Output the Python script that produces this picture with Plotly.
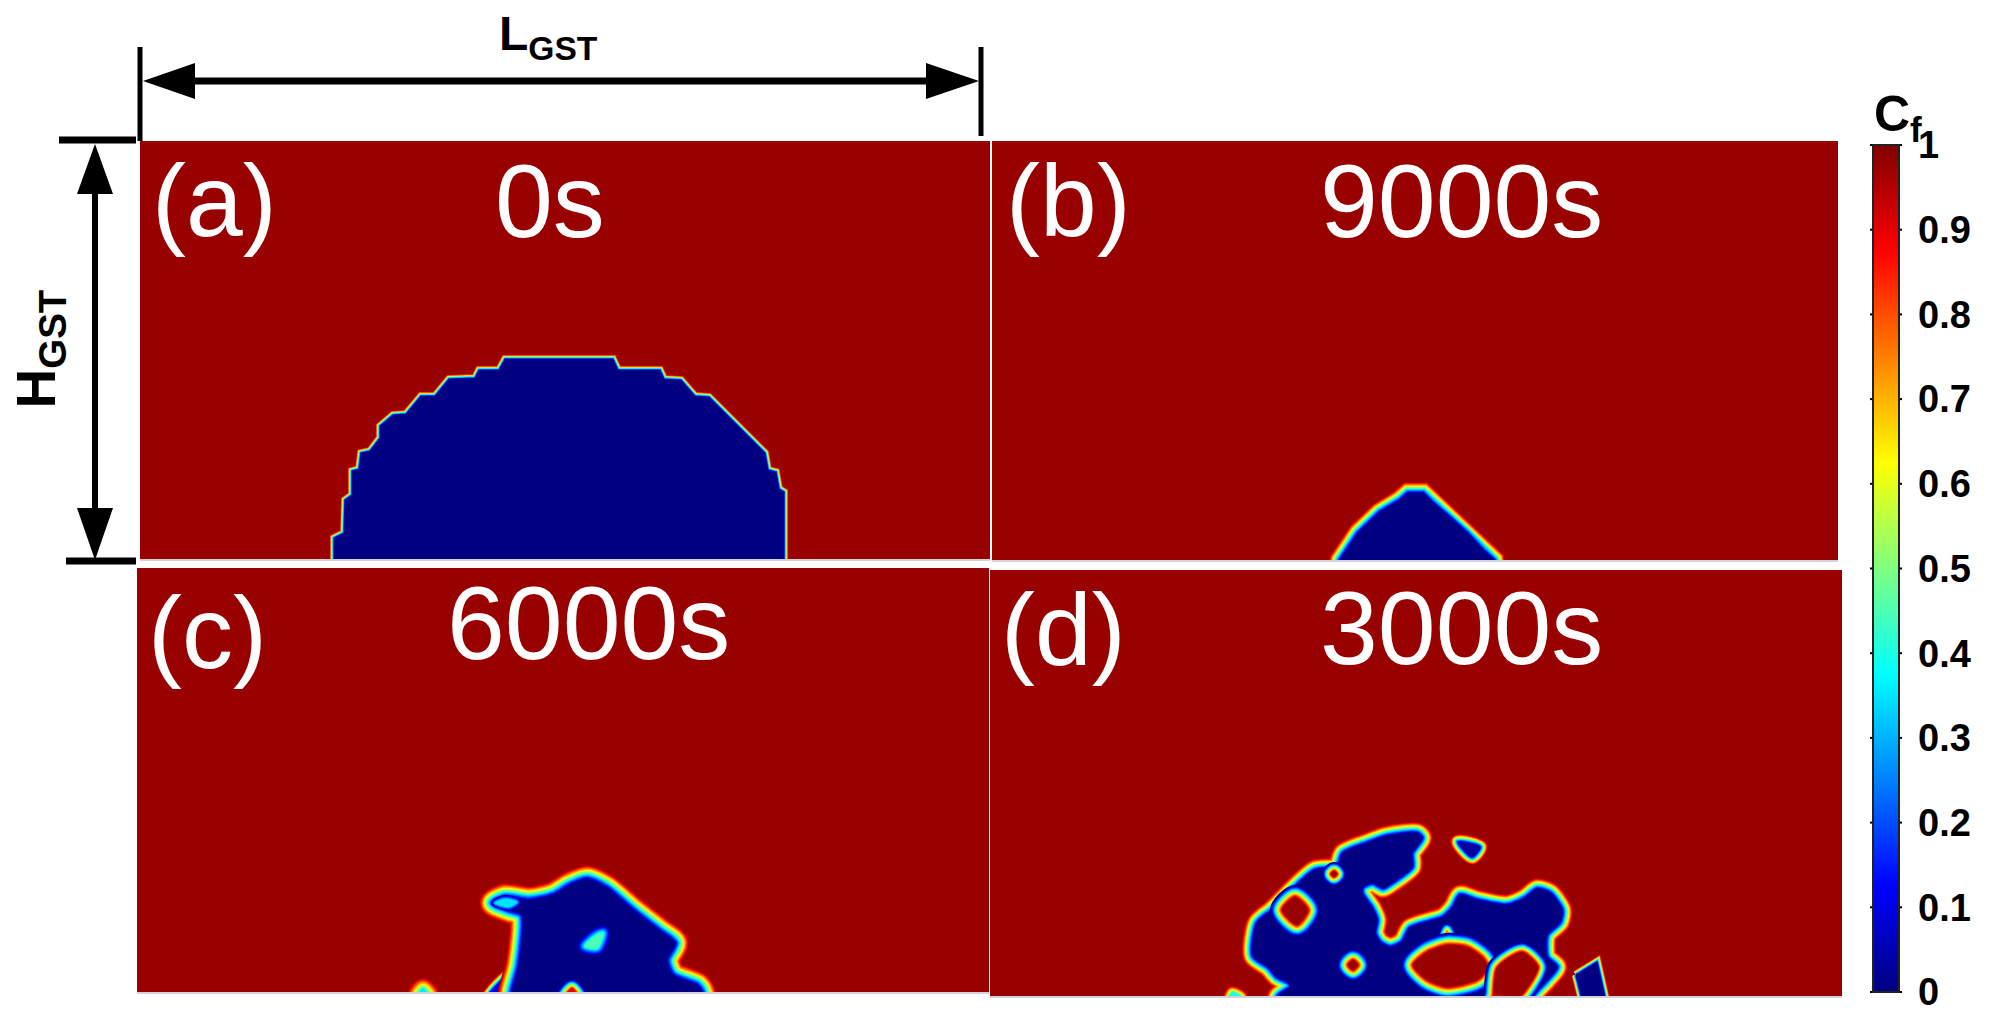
import plotly.graph_objects as go

FIG_W, FIG_H = 1992, 1034
TIME_LABELS = ["0s", "9000s", "6000s", "3000s"]
PANEL_LABELS = ["(a)", "(b)", "(c)", "(d)"]
CBAR_TICKS = [0, 0.1, 0.2, 0.3, 0.4, 0.5, 0.6, 0.7, 0.8, 0.9, 1]
CBAR_TEXT = ["0", "0.1", "0.2", "0.3", "0.4", "0.5", "0.6", "0.7", "0.8", "0.9", "1"]
BACKGROUND_CF = 0.975

# Outlines of the amorphous (Cf ~ 0) regions.
# Units: distance from each panel's left edge and from its bottom edge.
A_X = [194, 194, 204, 205, 212, 212, 219, 221, 230, 240, 240, 253, 266, 281, 295, 309, 335, 339, 359, 365, 473, 478, 520, 524, 541, 555, 569, 625, 628, 636, 639, 644, 644]
A_Y = [-15, 21, 26, 59, 64, 88, 90, 106, 108, 121, 133, 144, 145, 163, 163, 180, 181, 189, 189, 200, 200, 189, 189, 180, 179, 163, 162, 106, 89, 87, 70, 67, -15]

B_X = [345, 348, 366, 388, 408, 416, 431, 441, 455, 475, 491, 502, 504]
B_Y = [-15, 0, 27, 48, 60, 67, 67, 57, 45, 27, 10, 0, -15]

C_MAIN_X = [375, 375, 382, 385, 372, 356, 368, 392, 416, 433, 450, 470, 496, 523, 538, 530, 536, 560, 565, 565]
C_MAIN_Y = [-15, 0, 27, 77, 82, 89, 95, 92, 97, 107, 113, 104, 82, 61, 49, 32, 17, 7, 0, -15]
C_FLARE_X = [358, 368, 380, 372]
C_FLARE_Y = [89, 93, 90, 85]
C_FOOT_X = [350, 375, 375]
C_FOOT_Y = [-5, 20, -5]
C_CORE_X = [448, 460, 466, 460]
C_CORE_Y = [46, 57, 59, 44]
C_NOTCH_X = [428, 435, 441]
C_NOTCH_Y = [-4, 4, -4]
C_BUMP_X = [281, 286, 292]
C_BUMP_Y = [-4, 3, -4]

D_MAIN_X = [288, 288, 300, 299, 287, 278, 263, 267, 282, 307, 325, 347, 353, 377, 397, 427, 432, 422, 422, 403, 393, 383, 373, 372, 382, 387, 385, 390, 400, 412, 420, 437, 453, 463, 470, 487, 517, 535, 547, 560, 572, 570, 557, 557, 567, 557, 543, 543]
D_MAIN_Y = [-15, 0, 9, 13, 19, 29, 40, 73, 86, 111, 126, 129, 143, 153, 160, 163, 158, 143, 129, 114, 108, 113, 109, 103, 88, 76, 63, 54, 49, 54, 68, 74, 79, 89, 101, 96, 91, 98, 107, 103, 86, 74, 61, 39, 29, 16, 0, -15]
D_HOLE1_X = [423, 437, 457, 477, 493, 498, 487, 457, 437]
D_HOLE1_Y = [31, 44, 51, 49, 38, 28, 16, 9, 16]
D_SPIKE_X = [454, 457, 461]
D_SPIKE_Y = [54, 66, 54]
D_HOLE2_X = [507, 532, 548, 538, 530, 503, 503]
D_HOLE2_Y = [28, 44, 29, 9, 0, 0, -15]
D_HOLE3_X = [292, 305, 318, 307]
D_HOLE3_Y = [86, 99, 86, 71]
D_HOLE4_X = [358, 363, 368, 363]
D_HOLE4_Y = [31, 36, 31, 26]
D_HOLE5_X = [341, 344, 347, 344]
D_HOLE5_Y = [122, 125, 122, 119]
D_TRI_X = [586, 607, 618, 595]
D_TRI_Y = [21, 34, -15, -15]
D_ISLE_X = [468, 490, 482]
D_ISLE_Y = [154, 149, 139]
D_BUMP_X = [238, 242, 252]
D_BUMP_Y = [-6, 4, -1]

JET = [[0, "#000080"], [0.125, "#0000ff"], [0.375, "#00ffff"], [0.625, "#ffff00"], [0.875, "#ff0000"], [1, "#800000"]]


def jet(v):
    for (a, ca), (b, cb) in zip(JET, JET[1:]):
        if v <= b:
            t = (v - a) / (b - a)
            rgb = [round(int(ca[i:i + 2], 16) * (1 - t) + int(cb[i:i + 2], 16) * t) for i in (1, 3, 5)]
            return "rgb(%d,%d,%d)" % tuple(rgb)
    return JET[-1][1]


PANELS = [  # left, top, right, bottom in page pixels
    (140, 141, 990, 559),
    (992, 141, 1838, 560),
    (137, 568, 989, 992),
    (990, 570, 1842, 996),
]

fig = go.Figure()
layout_axes = {}
for i, (l, t, r, b) in enumerate(PANELS):
    s = "" if i == 0 else str(i + 1)
    layout_axes["xaxis" + s] = dict(domain=[l / FIG_W, r / FIG_W], range=[0, r - l], anchor="y" + s,
                                    showgrid=False, zeroline=False, showticklabels=False, ticks="",
                                    showline=True, linecolor="#d2d2da", linewidth=2, fixedrange=True)
    layout_axes["yaxis" + s] = dict(domain=[1 - b / FIG_H, 1 - t / FIG_H], range=[0, b - t], anchor="x" + s,
                                    showgrid=False, zeroline=False, showticklabels=False, ticks="",
                                    showline=False, fixedrange=True)
    trace = dict(z=[[BACKGROUND_CF]], x=[0, r - l], y=[0, b - t], zmin=0, zmax=1, colorscale=JET,
                 xaxis="x" + s, yaxis="y" + s, hoverinfo="skip", showscale=i == 0)
    if i == 0:
        trace["colorbar"] = dict(
            x=1873 / FIG_W, xanchor="left", y=1 - 992 / FIG_H, yanchor="bottom",
            len=847 / FIG_H, lenmode="fraction", thickness=26, thicknessmode="pixels",
            tickmode="array", tickvals=CBAR_TICKS, ticktext=CBAR_TEXT, ticks="outside", ticklen=11,
            tickcolor="rgba(0,0,0,0)", tickwidth=1, outlinecolor="#222222", outlinewidth=2,
            tickfont=dict(family="Liberation Sans", size=38, color="black", weight="bold"),
            xpad=0, ypad=0)
    fig.add_trace(go.Heatmap(**trace))


def region(panel, xs, ys, v_out, v_in, width, smooth=True, levels=12):
    """Layered outline: colour runs v_out -> v_in over `width` px toward the outline."""
    s = "" if panel == 0 else str(panel + 1)
    xc, yc = list(xs) + [xs[0]], list(ys) + [ys[0]]
    for k in range(levels + 1):
        t = k / levels
        v = v_out + (v_in - v_out) * t
        d = width * (1 - t)
        fig.add_trace(go.Scatter(
            x=xc, y=yc, mode="lines", fill="toself", fillcolor=jet(v),
            line=dict(color=jet(v), width=max(2 * d, 0.01), shape="spline" if smooth else "linear", smoothing=0.7),
            xaxis="x" + s, yaxis="y" + s, hoverinfo="skip", showlegend=False))


BLOB, HOLE = (0.95, 0.0), (0.0, 0.975)
region(0, A_X, A_Y, *BLOB, 4.5, smooth=False, levels=8)
region(1, B_X, B_Y, *BLOB, 11, smooth=False)

region(2, C_FOOT_X, C_FOOT_Y, 0.95, 0.1, 6)
region(2, C_MAIN_X, C_MAIN_Y, *BLOB, 14)
region(2, C_FLARE_X, C_FLARE_Y, 0.03, 0.35, 4)
region(2, C_CORE_X, C_CORE_Y, 0.0, 0.45, 8)
region(2, C_NOTCH_X, C_NOTCH_Y, 0.0, 0.9, 9)
region(2, C_BUMP_X, C_BUMP_Y, 0.95, 0.35, 11)

region(3, D_MAIN_X, D_MAIN_Y, *BLOB, 11)
region(3, D_TRI_X, D_TRI_Y, *BLOB, 5, smooth=False)
region(3, D_ISLE_X, D_ISLE_Y, 0.95, 0.03, 8)
region(3, D_BUMP_X, D_BUMP_Y, 0.95, 0.4, 6)
region(3, D_SPIKE_X, D_SPIKE_Y, 0.1, 0.75, 6)
region(3, D_HOLE1_X, D_HOLE1_Y, *HOLE, 12)
region(3, D_HOLE2_X, D_HOLE2_Y, *HOLE, 10)
region(3, D_HOLE3_X, D_HOLE3_Y, *HOLE, 12)
region(3, D_HOLE4_X, D_HOLE4_Y, *HOLE, 11)
region(3, D_HOLE5_X, D_HOLE5_Y, *HOLE, 9)

TEXT_POS = [((74, 358), (410, 358)), ((76, 359), (469, 359)), ((70, 359), (451, 369)), ((73, 366), (471, 368))]
annotations = []
for i, ((lx, ly), (tx, ty)) in enumerate(TEXT_POS):
    s = "" if i == 0 else str(i + 1)
    for txt, x, y, size in ((PANEL_LABELS[i], lx, ly, 102), (TIME_LABELS[i], tx, ty, 104)):
        annotations.append(dict(text=txt, x=x, y=y, xref="x" + s, yref="y" + s, showarrow=False,
                                xanchor="center", yanchor="middle",
                                font=dict(family="Liberation Sans", size=size, color="white")))


def px(x):
    return x / FIG_W


def py(y):
    return 1 - y / FIG_H


annotations += [
    dict(text="<b>L<sub>GST</sub></b>", x=px(497), y=py(5), xref="paper", yref="paper", showarrow=False,
         font=dict(family="Liberation Sans", size=48, color="black")),
    dict(text="<b>H<sub>GST</sub></b>", x=px(2), y=py(288), xref="paper", yref="paper", showarrow=False,
         textangle=-90, font=dict(family="Liberation Sans", size=55, color="black")),
    dict(text="<b>C<sub>f</sub></b>", x=px(1924), y=py(84), xref="paper", yref="paper", showarrow=False,
         font=dict(family="Liberation Sans", size=50, color="black")),
]


def line(x0, y0, x1, y1, w):
    return dict(type="line", xref="paper", yref="paper", x0=px(x0), y0=py(y0), x1=px(x1), y1=py(y1),
                line=dict(color="black", width=w))


def tri(p):
    d = "M " + " L ".join(f"{px(x):.5f} {py(y):.5f}" for x, y in p) + " Z"
    return dict(type="path", xref="paper", yref="paper", path=d, fillcolor="black", line=dict(width=0))


shapes = [
    line(140, 47, 140, 141, 5), line(981, 47, 981, 136, 5),
    line(190, 81, 930, 81, 7),
    tri([(143, 81), (195, 63), (195, 99)]), tri([(979, 81), (926, 63), (926, 99)]),
    line(59, 140, 136, 140, 7), line(66, 561, 136, 561, 7),
    line(95, 190, 95, 510, 6),
    tri([(95, 144), (77, 194), (113, 194)]), tri([(95, 560), (77, 508), (113, 508)]),
]
for v in CBAR_TICKS:
    y = 992 - 847 * v
    shapes += [line(1870, y, 1876, y, 2), line(1896, y, 1902, y, 2)]

fig.update_layout(width=FIG_W, height=FIG_H, margin=dict(l=0, r=0, t=0, b=0), autosize=False,
                  paper_bgcolor="white", plot_bgcolor="white", showlegend=False,
                  annotations=annotations, shapes=shapes, **layout_axes)
fig.write_html("out.html", config=dict(displayModeBar=False),
               post_script="document.body.style.margin='0';document.body.style.overflow='hidden';")
